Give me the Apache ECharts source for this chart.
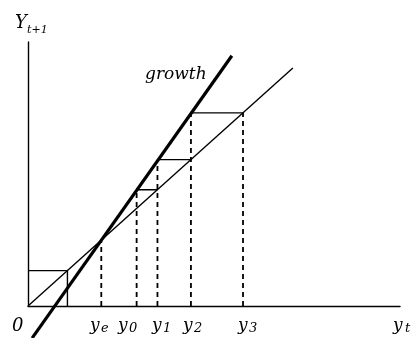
<!DOCTYPE html>
<html>
<head>
<meta charset="utf-8">
<title>growth cobweb</title>
<script src="https://cdn.jsdelivr.net/npm/echarts@6/dist/echarts.min.js"></script>
<style>
  html, body { margin: 0; padding: 0; background: #ffffff; }
  #chart { width: 412px; height: 338px; }
</style>
</head>
<body>
<div id="chart"></div>
<script>
// Subscripts of the marked points on the y_t axis
const pointNames = ['e', '0', '1', '2', '3'];
// Positions of y_e, y_0, y_1, y_2, y_3 on the horizontal axis
const pointX = [1.97, 2.92, 3.48, 4.38, 5.78];
// Height each dashed guide reaches (growth line value, or the 45° line for the last one)
const pointTop = [1.97, 3.48, 4.38, 5.78, 5.78];
// 45-degree reference line Y(t+1) = Y(t), drawn up to this value
const diagonalEnd = 7.12;
// Endpoints of the "growth" line
const growthX = [0.11, 5.48];
const growthY = [-0.96, 7.49];
// Small starting box near the origin
const startBox = 1.06;
// Axis extents
const xMax = 10;
const yMax = 7.9;

const chart = echarts.init(document.getElementById('chart'), null, { renderer: 'canvas' });

const INK = '#000000';
const FONT = '"DejaVu Serif", serif';

function seg(points, width, dashed, clip) {
  return {
    type: 'line',
    data: points,
    symbol: 'none',
    silent: true,
    clip: clip !== false,
    z: dashed ? 2 : 3,
    lineStyle: {
      color: INK,
      width: width,
      type: dashed ? [5, 4] : 'solid',
      cap: 'butt'
    }
  };
}

const series = [];

// dashed guides from the axis up to the curves
pointX.forEach(function (x, i) {
  series.push(seg([[x, 0], [x, pointTop[i]]], 1.8, true));
});

// horizontal steps of the cobweb
for (let i = 1; i < pointX.length - 1; i++) {
  series.push(seg([[pointX[i], pointTop[i]], [pointX[i + 1], pointTop[i]]], 1.4, false));
}

// starting box
series.push(seg([[0, startBox], [startBox, startBox], [startBox, 0]], 1.4, false));

// 45-degree line
series.push(seg([[0, 0], [diagonalEnd, diagonalEnd]], 1.4, false));

// growth line (extends below the horizontal axis)
series.push(seg([[growthX[0], growthY[0]], [growthX[1], growthY[1]]], 3.2, false, false));

// text labels
function txt(str, left, midY, size) {
  return {
    type: 'text',
    left: left,
    top: midY - size / 2,
    silent: true,
    style: {
      text: str,
      fill: INK,
      font: 'italic ' + size + 'px ' + FONT
    }
  };
}

const labelLeft = [90, 118, 152, 183, 238];
const graphics = [
  txt('Y', 15, 23, 18),
  txt('t+1', 27, 30, 11),
  txt('0', 12, 326, 18),
  txt('growth', 145, 75, 17),
  txt('y', 393, 326, 17),
  txt('t', 405, 329, 13)
];
pointNames.forEach(function (n, i) {
  graphics.push(txt('y', labelLeft[i], 326, 17));
  graphics.push(txt(n, labelLeft[i] + 11, 329, 13));
});

chart.setOption({
  animation: false,
  backgroundColor: '#ffffff',
  grid: { left: 28, right: 12, top: 42, bottom: 32, containLabel: false },
  xAxis: {
    type: 'value', min: 0, max: xMax,
    axisLine: { show: true, onZero: false, lineStyle: { color: INK, width: 1.4 } },
    axisTick: { show: false }, axisLabel: { show: false }, splitLine: { show: false }
  },
  yAxis: {
    type: 'value', min: 0, max: yMax,
    axisLine: { show: true, onZero: false, lineStyle: { color: INK, width: 1.4 } },
    axisTick: { show: false }, axisLabel: { show: false }, splitLine: { show: false }
  },
  series: series,
  graphic: graphics
});
</script>
</body>
</html>
